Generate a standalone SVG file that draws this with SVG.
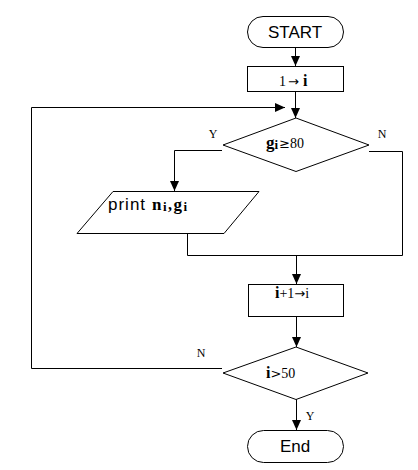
<svg xmlns="http://www.w3.org/2000/svg" width="418" height="470" viewBox="0 0 418 470">
<defs>
<marker id="ah" markerUnits="userSpaceOnUse" markerWidth="10" markerHeight="10" viewBox="0 0 10 10" refX="10" refY="5" orient="auto">
<path d="M0,0.5 L10,5 L0,9.5 Z" fill="#000"/>
</marker>
<style>
.s{fill:#fff;stroke:#000;stroke-width:1}
.c{fill:none;stroke:#000;stroke-width:1}
.a{marker-end:url(#ah)}
.t{font-family:"Liberation Sans",Arial,sans-serif;font-size:17px;fill:#000}
.m{font-family:"Liberation Serif","Times New Roman",serif;font-size:14px;fill:#000}
.l{font-family:"Liberation Serif","Times New Roman",serif;font-size:12px;fill:#000}
.b{font-weight:bold}
.y{font-family:"DejaVu Sans",sans-serif;font-size:13px}
</style>
</defs>
<rect width="418" height="470" fill="#fff"/>
<g id="connectors">
<line class="c a" x1="295.5" y1="47" x2="295.5" y2="66"/>
<line class="c a" x1="295.5" y1="91" x2="295.5" y2="118"/>
<polyline class="c a" points="222,368.5 31.5,368.5 31.5,107.5 285,107.5"/>
<polyline class="c a" points="222,150.5 174.5,150.5 174.5,191"/>
<polyline class="c" points="369,151.5 402.5,151.5 402.5,255.5"/>
<polyline class="c" points="187.5,233 187.5,255.5 402.5,255.5"/>
<line class="c a" x1="296.5" y1="255.5" x2="296.5" y2="284"/>
<line class="c a" x1="296.5" y1="316" x2="296.5" y2="347"/>
<line class="c a" x1="296.5" y1="399" x2="296.5" y2="430"/>
<text class="l" x="213" y="138" text-anchor="middle">Y</text>
<text class="l" x="382" y="138" text-anchor="middle">N</text>
<text class="l" x="201" y="357" text-anchor="middle">N</text>
<text class="l" x="310" y="420" text-anchor="middle">Y</text>
</g>
<g id="start">
<rect class="s" x="247.5" y="16.5" width="96" height="31" rx="15.5"/>
<text class="t" x="295" y="38" text-anchor="middle">START</text>
</g>
<g id="init">
<rect class="s" x="247.5" y="66.5" width="96" height="25"/>
<text class="m" x="279" y="86">1<tspan class="y" dx="2">→</tspan><tspan class="b" font-size="16" dx="4">i</tspan></text>
</g>
<g id="cond1">
<polygon class="s" points="296,118 369,145 296,171.5 223,145"/>
<text class="m" x="266" y="148"><tspan class="b" font-size="17">g</tspan><tspan class="b" font-size="13" dy="1">i</tspan><tspan class="y" font-size="14" dy="-1" dx="1">≥</tspan>80</text>
</g>
<g id="print">
<polygon class="s" points="113,191.5 259,191.5 224,233.5 77,233.5"/>
<text class="t" x="108" y="210" letter-spacing="1">print</text>
<text class="m" x="152" y="210" letter-spacing="1.5"><tspan class="b" font-size="17">n</tspan><tspan class="b" font-size="13" dy="1">i</tspan><tspan class="b" font-size="16" dy="-1">,</tspan><tspan class="b" font-size="17">g</tspan><tspan class="b" font-size="13" dy="1">i</tspan></text>
</g>
<g id="incr">
<rect class="s" x="248.5" y="284.5" width="95" height="32"/>
<text class="m" x="275" y="298"><tspan class="b" font-size="16">i</tspan>+1<tspan class="y">→</tspan>i</text>
</g>
<g id="cond2">
<polygon class="s" points="296,347 368,373 296,399.5 223,373"/>
<text class="m" x="266" y="378"><tspan class="b" font-size="16">i</tspan><tspan class="y" font-size="14">&gt;</tspan>50</text>
</g>
<g id="end">
<rect class="s" x="247.5" y="430.5" width="96" height="32" rx="16"/>
<text class="t" x="295" y="452" text-anchor="middle">End</text>
</g>
</svg>
